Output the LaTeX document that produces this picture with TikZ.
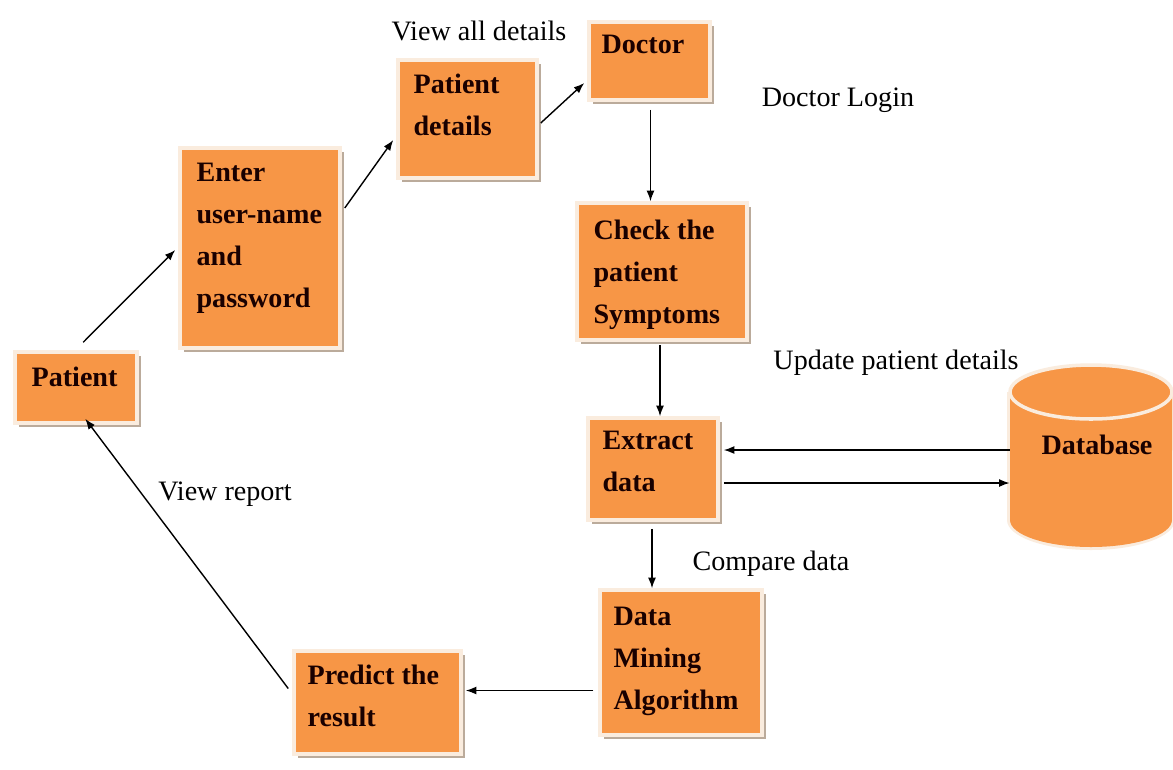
\documentclass[tikz,border=0pt]{standalone}
\usepackage{fontspec}
\setmainfont{Liberation Serif}
\usetikzlibrary{arrows.meta,calc,fit,shadows}
\definecolor{ofill}{RGB}{247,150,70}
\definecolor{orim}{RGB}{250,236,222}
\definecolor{oshadow}{RGB}{170,150,130}
\tikzset{
  obox/.style={fill=ofill, draw=orim, line width=2pt, inner sep=0pt,
    drop shadow={shadow xshift=2.5pt, shadow yshift=-2.5pt, fill=oshadow, opacity=0.8}},
  btext/.style={font=\fontsize{16}{24}\selectfont\bfseries, align=left, inner sep=0pt, text=black!90!red},
  lbl/.style={font=\fontsize{16}{19}\selectfont, inner sep=0pt},
  arr/.style={-{Latex[length=6pt,width=4.5pt]}, line width=0.8pt, black}
}
\begin{document}
\begin{tikzpicture}[x=0.02cm, y=-0.02cm]
\useasboundingbox[fill=white] (0,0) rectangle (1173,769);

% boxes
\node[obox, fit={(15,352) (137,423)}] (pat) {};
\node[obox, fit={(180,148) (340,348)}] (ent) {};
\node[obox, fit={(398,60) (537,178)}] (pd) {};
\node[obox, fit={(589,22) (710,100)}] (doc) {};
\node[obox, fit={(577,203) (747,340)}] (chk) {};
\node[obox, fit={(588,418) (718,520)}] (ext) {};
\node[obox, fit={(600,590) (762,735)}] (dm) {};
\node[obox, fit={(294,651) (461,754)}] (pr) {};

% database cylinder
\node[fit={(1010,365) (1172,547)}, inner sep=0pt] (db) {};
\fill[orim] (1007,392) -- (1007,520) arc[start angle=180,end angle=360,x radius=1.68cm,y radius=0.60cm] -- (1175,392) -- cycle;
\fill[ofill] (1010,392) -- (1010,520) arc[start angle=180,end angle=360,x radius=1.62cm,y radius=0.54cm] -- (1172,392) -- cycle;
\filldraw[fill=ofill, draw=orim, line width=2pt] (1091,392) ellipse[x radius=1.62cm, y radius=0.54cm];

% box texts
\node[btext, anchor=north west] (pat-t) at ($(pat.north west)+(18,16)$) {Patient};
\node[btext, anchor=north west] (ent-t) at ($(ent.north west)+(18,16)$) {Enter\\user-name\\and\\password};
\node[btext, anchor=north west] (pd-t) at ($(pd.north west)+(17,15)$) {Patient\\details};
\node[btext, anchor=north west] (doc-t) at ($(doc.north west)+(14,14)$) {Doctor};
\node[btext, anchor=north west] (chk-t) at ($(chk.north west)+(18,18)$) {Check the\\patient\\Symptoms};
\node[btext, anchor=north west] (ext-t) at ($(ext.north west)+(16,14)$) {Extract\\data};
\node[btext, anchor=north west] (dm-t) at ($(dm.north west)+(15,18)$) {Data\\Mining\\Algorithm};
\node[btext, anchor=north west] (pr-t) at ($(pr.north west)+(15,15)$) {Predict the\\result};
\node[btext] (db-t) at (1097,445) {Database};

% labels
\node[lbl] (l1) at (479,31) {View all details};
\node[lbl] (l2) at (838,100) {Doctor Login};
\node[lbl] (l3) at (896,363) {Update patient details};
\node[lbl] (l4) at (771,564) {Compare data};
\node[lbl] (l5) at (225,494) {View report};

% connectors
\draw[arr] ($(pat.north west)+(70,-8)$) -- ($(ent.west)+(-3,2)$);
\draw[arr] ($(ent.east)+(3,-40)$) -- ($(pd.west)+(-3,21)$);
\draw[arr] ($(pd.east)+(2,4)$) -- ($(doc.west)+(-3,22)$);
\draw[arr] ($(doc.south)+(1,8)$) coordinate (a4s) -- (a4s |- chk.north);
\draw[arr] ($(chk.south)+(-2,3)$) coordinate (a5s) -- (a5s |- ext.north);
\draw[arr] ($(db.west)+(0,-6)$) coordinate (a6s) -- ($(a6s -| ext.east)+(4,0)$);
\draw[arr] ($(ext.east)+(4,14)$) coordinate (a7s) -- (a7s -| db.west);
\draw[arr] ($(ext.south)+(-1,7)$) coordinate (a8s) -- (a8s |- dm.north);
\draw[arr] ($(dm.west)+(-5,28)$) coordinate (a9s) -- ($(a9s -| pr.east)+(3,0)$);
\draw[arr] ($(pr.west)+(-4,-14)$) -- ($(pat.south west)+(72,-6)$);
\end{tikzpicture}
\end{document}
